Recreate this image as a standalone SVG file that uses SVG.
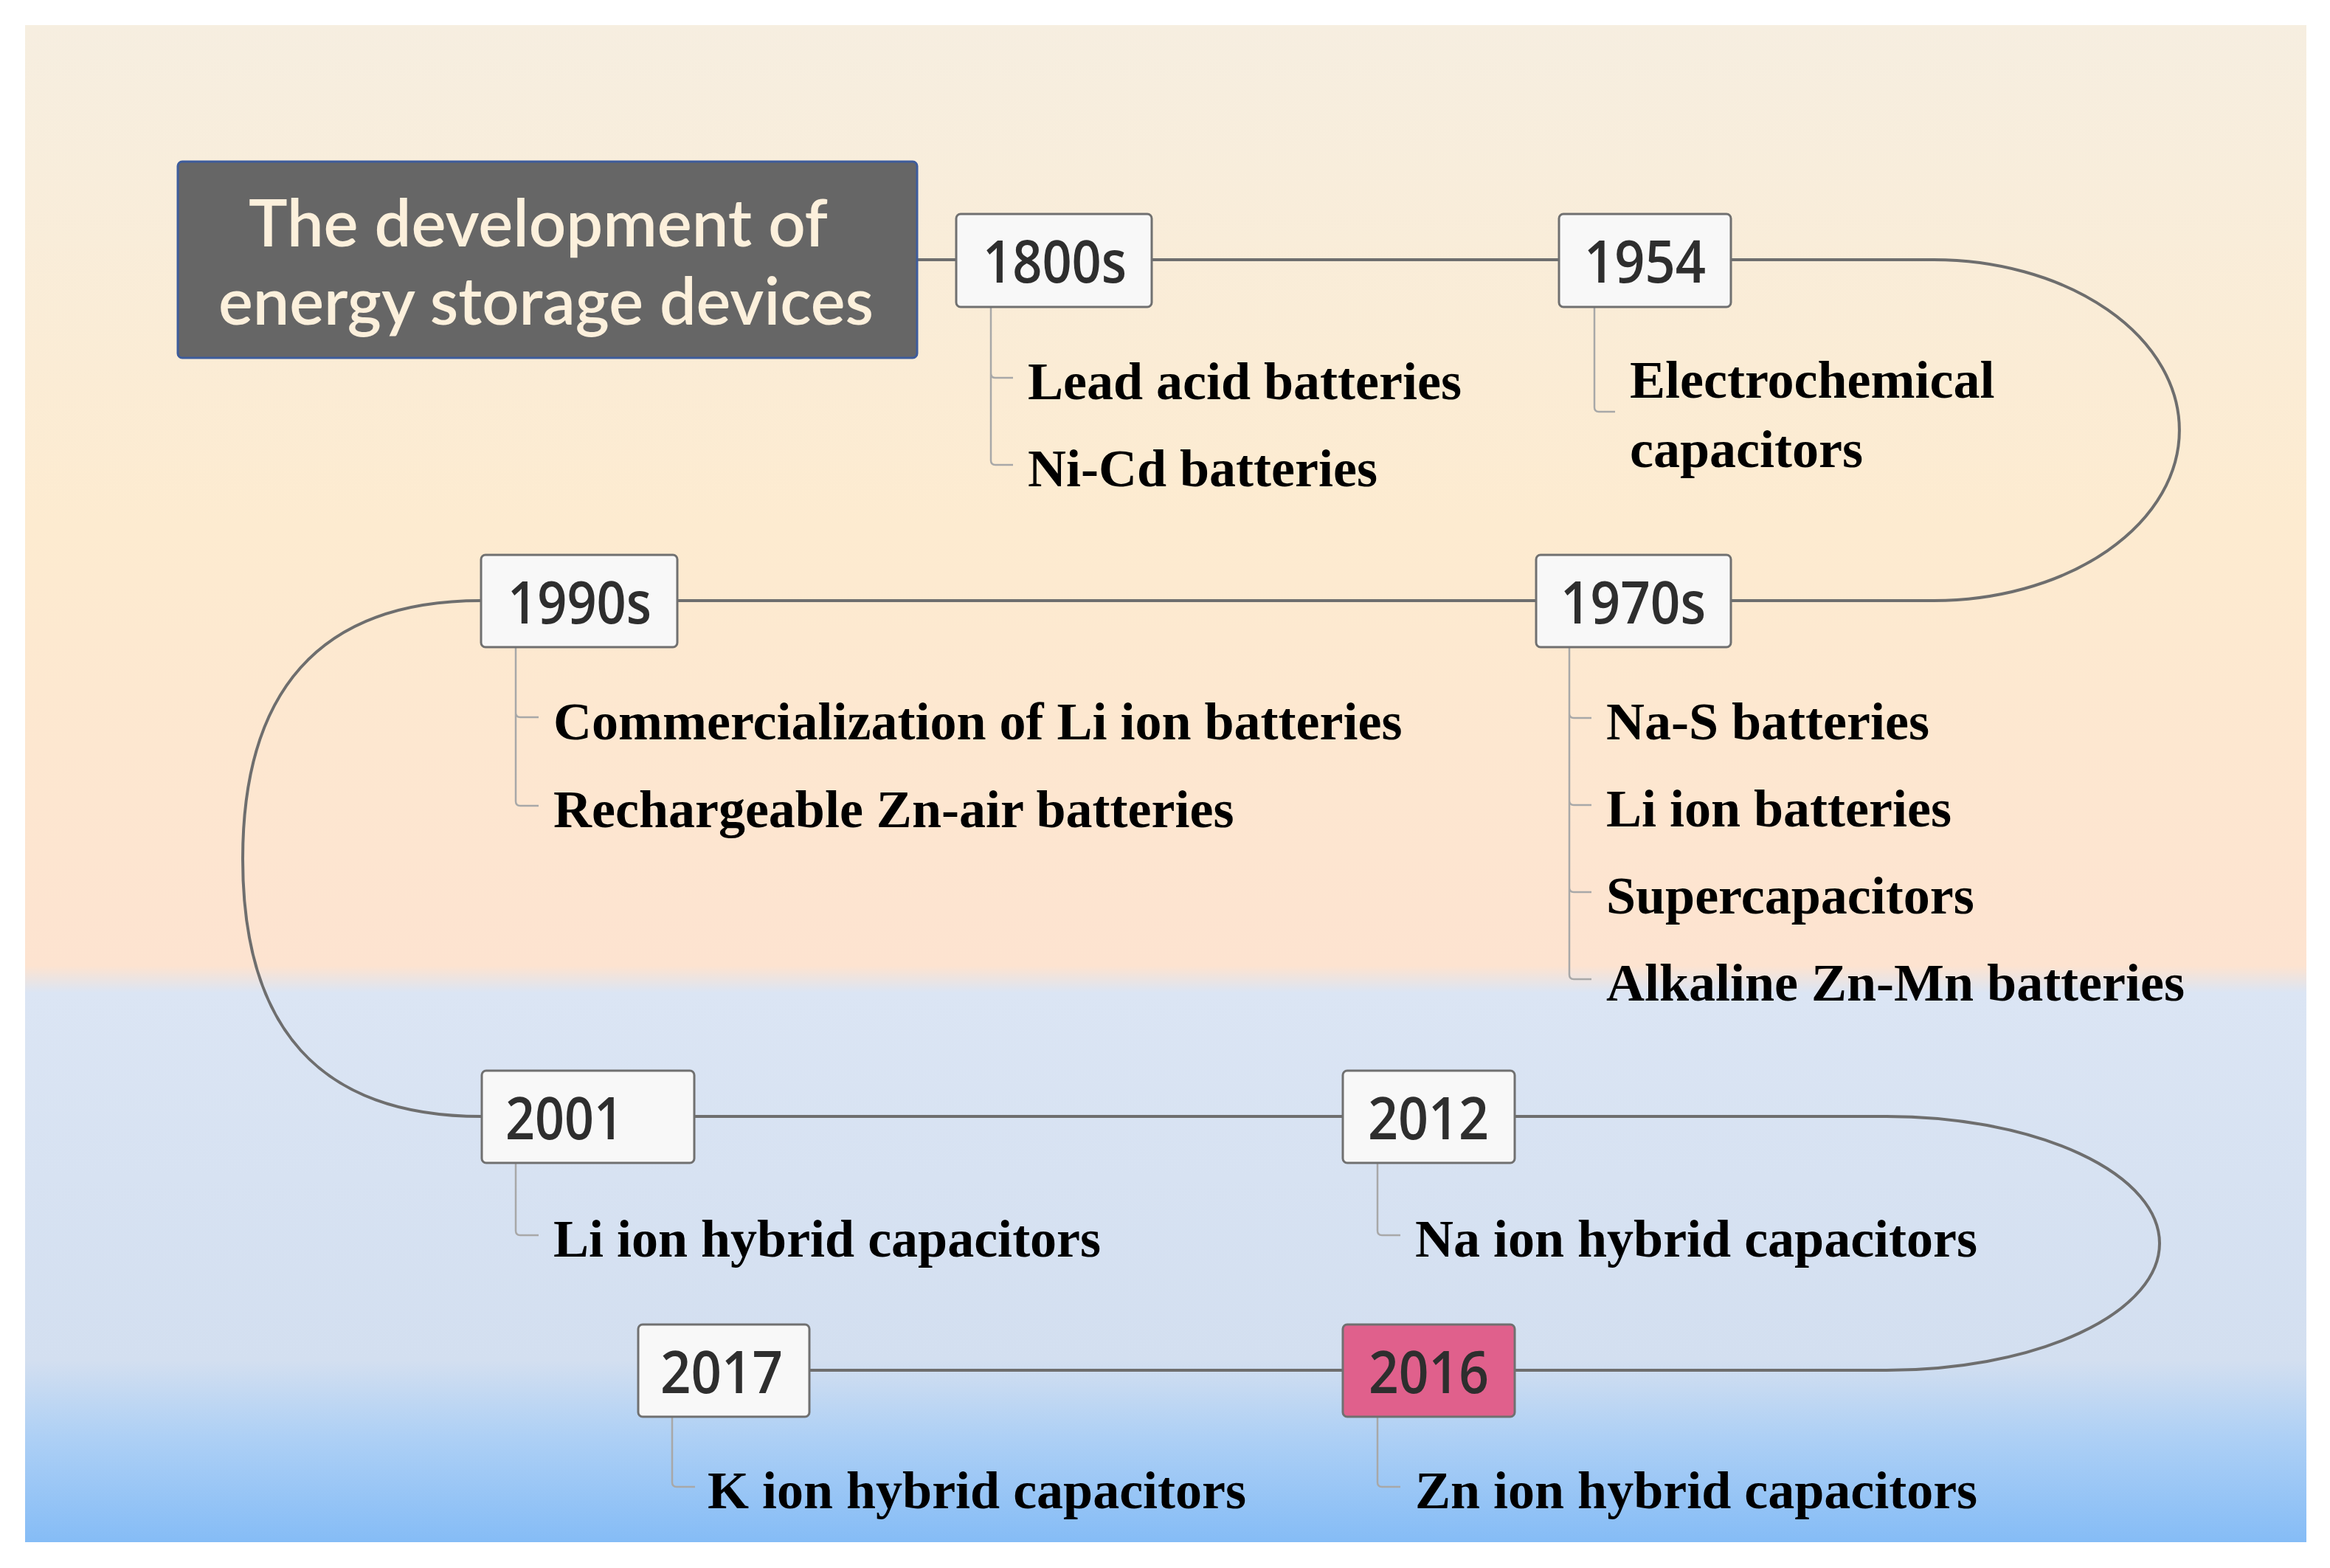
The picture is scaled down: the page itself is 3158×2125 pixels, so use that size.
<svg xmlns="http://www.w3.org/2000/svg" width="3158" height="2125" viewBox="0 0 3158 2125">
<defs>
<linearGradient id="bg" x1="0" y1="34" x2="0" y2="2090" gradientUnits="userSpaceOnUse">
<stop offset="0" stop-color="#f6eee0"/>
<stop offset="0.33" stop-color="#fdebd0"/>
<stop offset="0.62" stop-color="#fde3d0"/>
<stop offset="0.638" stop-color="#dbe5f4"/>
<stop offset="0.88" stop-color="#d3dff0"/>
<stop offset="0.93" stop-color="#aed0f5"/>
<stop offset="1" stop-color="#85bcf6"/>
</linearGradient>
<style>
.yr{fill:#f8f8f8;stroke:#707070;stroke-width:3}
.yt{font-family:"Open Sans","Liberation Sans",sans-serif;font-weight:600;font-size:80px;fill:#2e2e2e}
.it{font-family:"Liberation Serif","Times New Roman",serif;font-weight:bold;font-size:72px;fill:#000}
.main{fill:none;stroke:#6e6e6e;stroke-width:4}
.sub{fill:none;stroke:#a8a8a8;stroke-width:2.5}
.tt{font-family:Lato,"Open Sans","Liberation Sans",sans-serif;font-weight:600;font-size:88px;fill:#fcf0dc}
</style>
</defs>
<rect x="0" y="0" width="3158" height="2125" fill="#ffffff"/>
<rect x="34" y="34" width="3092" height="2056" fill="url(#bg)"/>

<g id="connectors">
<path class="main" d="M1243 352 H1296"/>
<path class="main" d="M1561 352 H2113"/>
<path class="main" d="M2346 352 H2621 A333 231 0 0 1 2621 814 H2346"/>
<path class="main" d="M2082 814 H918"/>
<path class="main" d="M652 814 C430 814 329 940 329 1164 C329 1390 430 1513 653 1513"/>
<path class="main" d="M941 1513 H1820"/>
<path class="main" d="M2053 1513 H2557 A370 172 0 0 1 2557 1857 H2053"/>
<path class="main" d="M1820 1857 H1097"/>
<path class="sub" d="M1343 417 V506 Q1343 512 1349 512 H1373 M1343 506 V624 Q1343 630 1349 630 H1373"/>
<path class="sub" d="M2161 416 V552 Q2161 558 2167 558 H2189"/>
<path class="sub" d="M699 877 V966 Q699 972 705 972 H730 M699 966 V1086 Q699 1092 705 1092 H730"/>
<path class="sub" d="M2127 877 V967 Q2127 973 2133 973 H2157 M2127 967 V1085 Q2127 1091 2133 1091 H2157 M2127 1085 V1203 Q2127 1209 2133 1209 H2157 M2127 1203 V1321 Q2127 1327 2133 1327 H2157"/>
<path class="sub" d="M699 1576 V1668 Q699 1674 705 1674 H730"/>
<path class="sub" d="M1867 1576 V1668 Q1867 1674 1873 1674 H1898"/>
<path class="sub" d="M911 1920 V2009 Q911 2015 917 2015 H942"/>
<path class="sub" d="M1867 1920 V2009 Q1867 2015 1873 2015 H1898"/>
</g>

<g id="title">
<rect x="241" y="219" width="1002" height="266" rx="6" fill="#666666" stroke="#3d5c9c" stroke-width="3"/>
<text class="tt" x="337" y="334" textLength="785" lengthAdjust="spacingAndGlyphs">The development of</text>
<text class="tt" x="296" y="440" textLength="888" lengthAdjust="spacingAndGlyphs">energy storage devices</text>
</g>

<g id="n1800s">
<rect class="yr" x="1296" y="290" width="265" height="126" rx="6"/>
<text class="yt" x="1332" y="383" textLength="195" lengthAdjust="spacingAndGlyphs">1800s</text>
<text class="it" x="1393" y="541">Lead acid batteries</text>
<text class="it" x="1393" y="659">Ni-Cd batteries</text>
</g>

<g id="n1954">
<rect class="yr" x="2113" y="290" width="233" height="126" rx="6"/>
<text class="yt" x="2147" y="383" textLength="165" lengthAdjust="spacingAndGlyphs">1954</text>
<text class="it" x="2209" y="539">Electrochemical</text>
<text class="it" x="2209" y="633">capacitors</text>
</g>

<g id="n1970s">
<rect class="yr" x="2082" y="752" width="264" height="125" rx="6"/>
<text class="yt" x="2115" y="845" textLength="197" lengthAdjust="spacingAndGlyphs">1970s</text>
<text class="it" x="2177" y="1002">Na-S batteries</text>
<text class="it" x="2177" y="1120">Li ion batteries</text>
<text class="it" x="2177" y="1238">Supercapacitors</text>
<text class="it" x="2177" y="1356">Alkaline Zn-Mn batteries</text>
</g>

<g id="n1990s">
<rect class="yr" x="652" y="752" width="266" height="125" rx="6"/>
<text class="yt" x="688" y="845" textLength="195" lengthAdjust="spacingAndGlyphs">1990s</text>
<text class="it" x="750" y="1002">Commercialization of Li ion batteries</text>
<text class="it" x="750" y="1121">Rechargeable Zn-air batteries</text>
</g>

<g id="n2001">
<rect class="yr" x="653" y="1451" width="288" height="125" rx="6"/>
<text class="yt" x="685" y="1544" textLength="160" lengthAdjust="spacingAndGlyphs">2001</text>
<text class="it" x="750" y="1703">Li ion hybrid capacitors</text>
</g>

<g id="n2012">
<rect class="yr" x="1820" y="1451" width="233" height="125" rx="6"/>
<text class="yt" x="1854" y="1544" textLength="164" lengthAdjust="spacingAndGlyphs">2012</text>
<text class="it" x="1918" y="1703">Na ion hybrid capacitors</text>
</g>

<g id="n2016">
<rect class="yr" x="1820" y="1795" width="233" height="125" rx="6" style="fill:#e0608c"/>
<text class="yt" x="1855" y="1888" textLength="163" lengthAdjust="spacingAndGlyphs">2016</text>
<text class="it" x="1918" y="2044">Zn ion hybrid capacitors</text>
</g>

<g id="n2017">
<rect class="yr" x="865" y="1795" width="232" height="125" rx="6"/>
<text class="yt" x="895" y="1888" textLength="166" lengthAdjust="spacingAndGlyphs">2017</text>
<text class="it" x="959" y="2044">K ion hybrid capacitors</text>
</g>
</svg>
